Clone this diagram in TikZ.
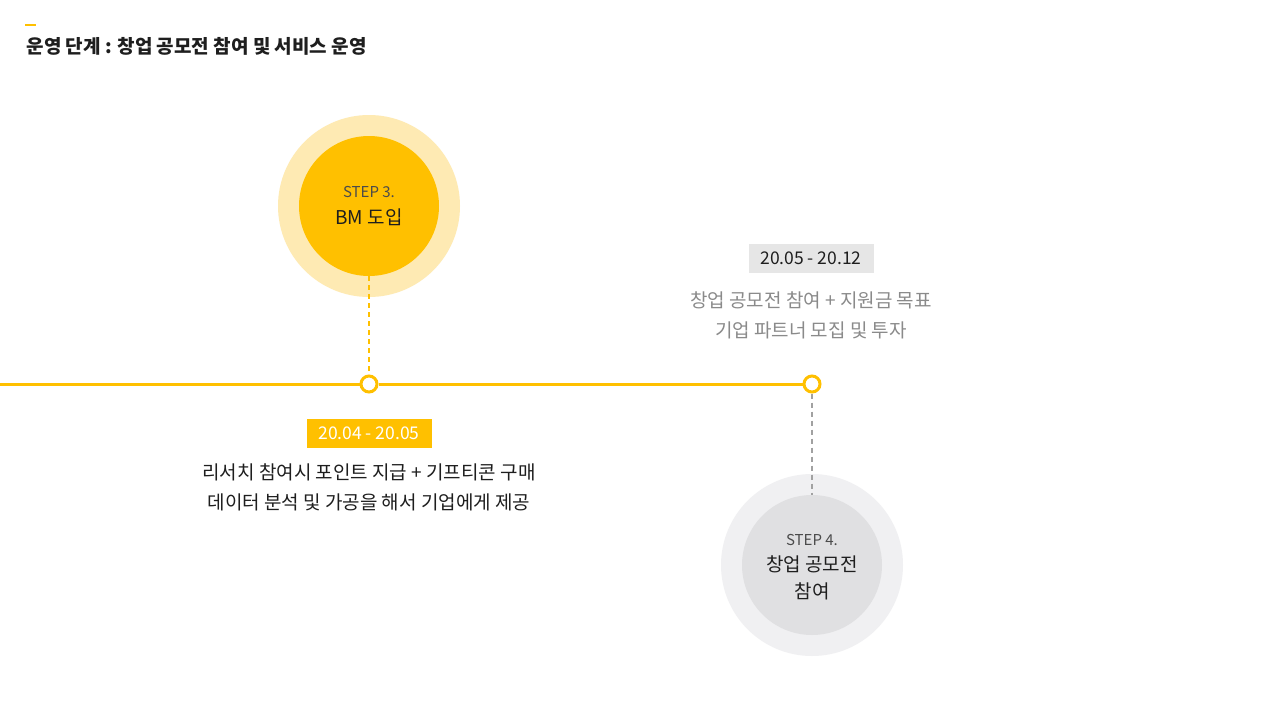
\documentclass[tikz,border=0pt]{standalone}
\usepackage{fontspec}
\setmainfont{Noto Sans CJK KR}
\definecolor{gold}{HTML}{FFC000}
\definecolor{paleGold}{HTML}{FEEAB3}
\definecolor{paleGray}{HTML}{F0F0F2}
\definecolor{midGray}{HTML}{E0E0E2}
\definecolor{boxGray}{HTML}{E6E6E6}
\definecolor{textGray}{HTML}{8A8A8A}
\definecolor{ink}{HTML}{1E1E1E}

\begin{document}
\begin{tikzpicture}[x=1pt,y=-1pt,
  ring/.style={circle,draw=gold,line width=3pt,fill=white,minimum size=16pt,inner sep=0pt},
  stepdisc/.style={circle,minimum size=140pt,inner sep=0pt,align=center,text=ink},
  halo/.style={circle,minimum size=182pt,inner sep=0pt},
  datebox/.style={minimum width=125pt,minimum height=29pt,inner sep=0pt,font=\fontsize{17.5}{18}\selectfont},
  body/.style={align=center,font=\fontsize{19}{30}\selectfont},
  guide/.style={line width=1.5pt,dash pattern=on 5pt off 4pt}]
  \fill[white] (0,0) rectangle (1280,720);
  \useasboundingbox (0,0) rectangle (1280,720);
  \draw[gold,line width=2pt] (25,25) -- (36,25);
  \node[anchor=west,text=ink,font=\fontsize{19}{20}\selectfont\bfseries] (title) at (23,46) {운영 단계 : 창업 공모전 참여 및 서비스 운영};

  \node[halo,fill=paleGold] (halo3) at (369,206) {};
  \node[stepdisc,fill=gold] (step3) at (369,206) {};
  \node[text=ink!80,font=\fontsize{15}{16}\selectfont] (step3a) at (369,192) {STEP 3.};
  \node[text=ink,font=\fontsize{19}{22}\selectfont] (step3b) at (369,217) {BM 도입};

  \node[halo,fill=paleGray] (halo4) at (812,565) {};
  \node[stepdisc,fill=midGray] (step4) at (812,565) {};
  \node[text=ink!80,font=\fontsize{15}{16}\selectfont] (step4a) at (812,540) {STEP 4.};
  \node[text=ink,align=center,font=\fontsize{19}{27}\selectfont] (step4b) at (812,578) {창업 공모전\\참여};

  \coordinate (start) at (0,384);
  \node[ring] (m3) at (369,384) {};
  \node[ring] (m4) at (812,384) {};
  \draw[gold,line width=3pt] (start) -- (m3) -- (m4);
  \draw[guide,gold] (step3.south) -- (m3);
  \draw[guide,textGray!80] (m4) -- (step4.north);

  \node[datebox,fill=gold,text=white] (date3) at (369,433) {20.04 - 20.05};
  \node[body,text=ink] (desc3) at (369,487) {리서치 참여시 포인트 지급 + 기프티콘 구매\\데이터 분석 및 가공을 해서 기업에게 제공};

  \node[datebox,fill=boxGray,text=ink] (date4) at (811,258) {20.05 - 20.12};
  \node[body,text=textGray] (desc4) at (811,315) {창업 공모전 참여 + 지원금 목표\\기업 파트너 모집 및 투자};
\end{tikzpicture}
\end{document}
